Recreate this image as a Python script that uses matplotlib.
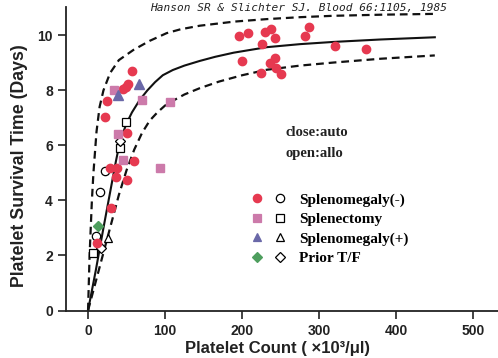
import matplotlib
matplotlib.use("Agg")
import matplotlib.pyplot as plt
from matplotlib.lines import Line2D
from matplotlib.legend_handler import HandlerTuple

# ---------------- data ----------------
# closed = autologous, open = allogeneic
spl_neg_closed_x = [196, 207, 200, 226, 230, 238, 242, 224, 236, 243, 244, 251, 281, 287, 321, 361,
                    57, 52, 49, 46, 24, 22, 50, 59, 28, 38, 36, 51, 30, 11.5]
spl_neg_closed_y = [9.96, 10.07, 9.07, 9.70, 10.12, 10.22, 9.90, 8.64, 9.01, 9.16, 8.80, 8.60, 9.99, 10.30, 9.60, 9.49,
                    8.69, 8.24, 8.14, 8.04, 7.60, 7.02, 6.45, 5.45, 5.18, 5.18, 4.86, 4.75, 3.72, 2.45]
splenectomy_closed_x = [34, 70, 106.5, 38.5, 45.5, 93.5]
splenectomy_closed_y = [8.02, 7.66, 7.57, 6.42, 5.47, 5.17]
spl_pos_closed_x = [66, 39.4]
spl_pos_closed_y = [8.23, 7.84]
prior_closed_x = [13]
prior_closed_y = [3.08]

spl_neg_open_x = [22, 15.5, 10]
spl_neg_open_y = [5.06, 4.30, 2.70]
splenectomy_open_x = [49, 41.6, 7]
splenectomy_open_y = [6.86, 5.90, 2.08]
spl_pos_open_x = [25.5]
spl_pos_open_y = [2.62]
prior_open_x = [41, 17]
prior_open_y = [6.17, 2.28]

# fitted curve and its limits
fit_x = [0, 10, 20, 30, 36, 40, 44, 50, 57, 67, 77, 87, 97, 110, 125, 145, 165, 189, 232, 275, 318, 380, 450]
fit_y = [0, 1.45, 3.0, 4.5, 5.4, 5.95, 6.35, 6.8, 7.2, 7.65, 8.0, 8.3, 8.55, 8.74, 8.9, 9.07, 9.22, 9.37,
         9.57, 9.68, 9.76, 9.85, 9.93]
upper_x = [0, 2, 5, 7, 11, 15, 20, 28.6, 40, 58.9, 80, 102, 120, 145, 190, 232, 275, 318, 380, 450]
upper_y = [0, 2.0, 4.0, 5.0, 6.5, 7.4, 8.0, 8.63, 9.1, 9.47, 9.8, 10.08, 10.22, 10.35, 10.5, 10.59, 10.66,
           10.71, 10.75, 10.78]
lower_x = [0, 40, 50, 60, 70, 80, 90, 100, 110, 125, 145, 170, 200, 232, 275, 318, 380, 450]
lower_y = [0, 4.2, 5.1, 5.85, 6.45, 6.9, 7.2, 7.45, 7.62, 7.85, 8.08, 8.32, 8.55, 8.75, 8.9, 9.01, 9.15, 9.27]

x_ticks = [0, 100, 200, 300, 400, 500]
y_ticks = [0, 2, 4, 6, 8, 10]

legend_labels = ["Splenomegaly(-)", "Splenectomy", "Splenomegaly(+)", "Prior T/F"]

# ---------------- style ----------------
RED = "#E63950"
PINK = "#CC7AAA"
PURPLE = "#6A68A8"
GREEN = "#4E9E5E"

fig = plt.figure(figsize=(4.98, 3.58), dpi=100)
ax = fig.add_axes([66 / 498, (358 - 310.5) / 358, (498 - 66) / 498, (310.5 - 7) / 358])
ax.set_xlim(-28.6, 532)
ax.set_ylim(0, 11.03)

# curves
ax.plot(upper_x, upper_y, color="#111111", lw=1.6, dashes=(3.5, 2.2), zorder=2)
ax.plot(lower_x, lower_y, color="#111111", lw=1.6, dashes=(3.5, 2.2), zorder=2)
ax.plot(fit_x, fit_y, color="#111111", lw=1.5, zorder=2)

ms = 6
kw_open = dict(ls="none", mfc="white", mec="black", mew=0.9, ms=ms, zorder=3)
ax.plot(spl_neg_open_x, spl_neg_open_y, marker="o", **kw_open)
ax.plot(splenectomy_open_x, splenectomy_open_y, marker="s", **kw_open)
ax.plot(spl_pos_open_x, spl_pos_open_y, marker="^", **kw_open)
ax.plot(prior_open_x, prior_open_y, marker="D", **dict(kw_open, ms=5))

ax.plot(spl_neg_closed_x, spl_neg_closed_y, marker="o", ls="none", color=RED, ms=ms, zorder=4)
ax.plot(splenectomy_closed_x, splenectomy_closed_y, marker="s", ls="none", color=PINK, ms=ms, zorder=4)
ax.plot(spl_pos_closed_x, spl_pos_closed_y, marker="^", ls="none", color=PURPLE, ms=ms + 1, zorder=4)
ax.plot(prior_closed_x, prior_closed_y, marker="D", ls="none", color=GREEN, ms=5, zorder=4)

# axes styling
for s in ["top", "right"]:
    ax.spines[s].set_visible(False)
for s in ["left", "bottom"]:
    ax.spines[s].set_linewidth(1.3)
    ax.spines[s].set_color("#222222")
ax.set_xticks(x_ticks)
ax.set_yticks(y_ticks)
ax.tick_params(direction="out", length=6, width=1.2, colors="#222222", labelsize=10)
for lab in ax.get_xticklabels() + ax.get_yticklabels():
    lab.set_fontweight("bold")
    lab.set_family("Liberation Sans")
ax.set_xlabel("Platelet Count ( ×10³/μl)", fontsize=12, fontweight="bold", family="Liberation Sans",
              color="#222222")
ax.xaxis.set_label_coords((277 - 66) / 432, -(341 - 310.5) / 303.5)
ax.set_ylabel("Platelet Survival Time (Days)", fontsize=12.8, fontweight="bold", family="Liberation Sans",
              color="#222222")
ax.yaxis.set_label_coords(-(66 - 28) / 432, (310.5 - 166) / 303.5)

# legend
mk = lambda m, c, open_=False, s=6: Line2D([], [], marker=m, ls="none", ms=s,
                                          mfc=("white" if open_ else c), mec=("black" if open_ else c), mew=0.9)
handles = [
    (mk("o", RED), mk("o", None, True)),
    (mk("s", PINK), mk("s", None, True)),
    (mk("^", PURPLE), mk("^", None, True)),
    (mk("D", GREEN, s=5), mk("D", None, True, s=5)),
]
leg = ax.legend(handles, legend_labels, handler_map={tuple: HandlerTuple(ndivide=None, pad=0.9)},
                loc="upper left", bbox_to_anchor=((238 - 66) / 432, (310.5 - 179) / 303.5),
                frameon=False, handlelength=2.2, handletextpad=0.9, labelspacing=0.38,
                prop=dict(family="Liberation Serif", weight="bold", size=11))

fig.text(285 / 498, 1 - 133 / 358, "close:auto", family="Liberation Serif", weight="bold",
         fontsize=10.5, va="center", ha="left", color="#222222")
fig.text(285 / 498, 1 - 153 / 358, "open:allo", family="Liberation Serif", weight="bold",
         fontsize=10.5, va="center", ha="left", color="#222222")

# header (citation at the top edge)
fig.text(150 / 498, 1 - 11 / 358, "Hanson SR & Slichter SJ. Blood 66:1105, 1985",
         family="DejaVu Sans Mono", style="italic", fontsize=8, va="baseline", ha="left", color="#222222")

fig.savefig("out.png", dpi=100)
